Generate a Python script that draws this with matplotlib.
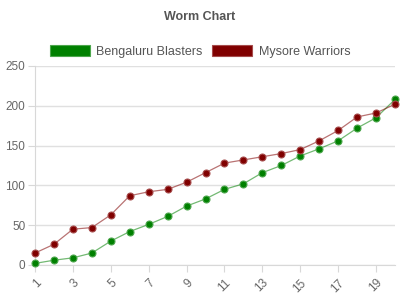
import matplotlib
matplotlib.use("Agg")
import matplotlib.pyplot as plt
from matplotlib.patches import Patch

plt.rcParams['font.family'] = ['Liberation Sans', 'DejaVu Sans']

# data
overs = list(range(1, 21))
bengaluru = [2, 6, 9, 15, 30, 42, 51, 61, 74, 83, 95, 102, 116, 125, 137, 146, 156, 172, 185, 208]
mysore = [15, 26, 45, 47, 63, 87, 92, 95, 104, 116, 128, 132, 136, 140, 145, 156, 169, 186, 191, 202]
team_names = ["Bengaluru Blasters", "Mysore Warriors"]
team_colors = ["#008000", "#800000"]
edge_colors = ["#4ca64c", "#a64c4c"]

fig = plt.figure(figsize=(4, 3), dpi=100)
ax = fig.add_axes([0.0875, 0.1167, 0.9, 0.6633])

for vals, col, ec in zip([bengaluru, mysore], team_colors, edge_colors):
    ax.plot(overs, vals, color=col, alpha=0.55, lw=0.9, zorder=2)
    ax.plot(overs, vals, ls='none', marker='o', ms=5, color=col,
            mec=ec, mew=0.8, zorder=3, clip_on=False)

ax.set_xlim(1, 20)
ax.set_ylim(0, 250)
ax.set_yticks([0, 50, 100, 150, 200, 250])
ax.set_xticks(overs[::2])
ax.grid(axis='y', color='#e0e0e0', lw=1)
ax.set_axisbelow(True)
for s in ['top', 'right']:
    ax.spines[s].set_visible(False)
for s in ['left', 'bottom']:
    ax.spines[s].set_color('#d8d8d8')
ax.tick_params(axis='both', colors='#d8d8d8', labelcolor='#666666', labelsize=8.5, length=5)
ax.tick_params(axis='y', pad=2)
for lbl in ax.get_xticklabels():
    lbl.set_rotation(45)
    lbl.set_ha('right')
    lbl.set_rotation_mode('anchor')

fig.text(0.5, 0.945, "Worm Chart", ha='center', va='center', fontsize=9,
         fontweight='bold', color='#555555')

handles = [Patch(facecolor=c, edgecolor=ec, lw=0.8) for c, ec in zip(team_colors, edge_colors)]
leg = fig.legend(handles, team_names, loc='center', bbox_to_anchor=(0.5, 0.828),
                 ncol=2, frameon=False, fontsize=9, handlelength=3.2, handleheight=1.0,
                 handletextpad=0.5, columnspacing=0.8)
for t in leg.get_texts():
    t.set_color('#555555')

fig.savefig("out.png", dpi=100)
